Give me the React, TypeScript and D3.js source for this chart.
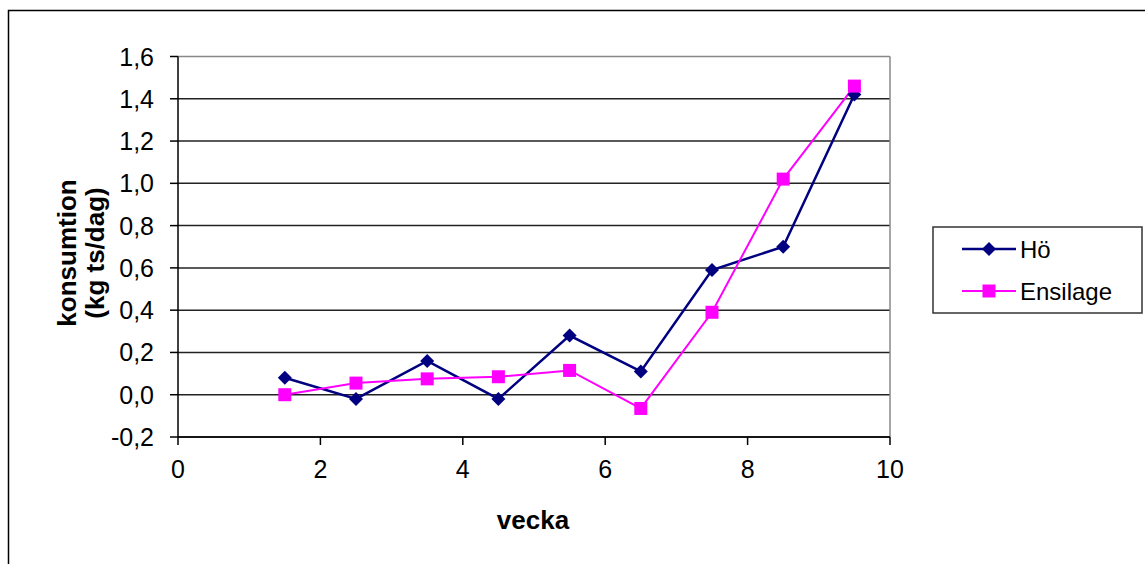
import React from "react";
import * as d3 from "d3";

const weeks = [1.5, 2.5, 3.5, 4.5, 5.5, 6.5, 7.5, 8.5, 9.5];
const hoValues = [0.08, -0.02, 0.16, -0.02, 0.28, 0.11, 0.59, 0.70, 1.42];
const ensilageValues = [0.0, 0.055, 0.075, 0.085, 0.115, -0.065, 0.39, 1.02, 1.46];
const xTicks = [0, 2, 4, 6, 8, 10];
const yTicks = [-0.2, 0, 0.2, 0.4, 0.6, 0.8, 1.0, 1.2, 1.4, 1.6];
const seriesNames = ["Hö", "Ensilage"];

const W = 1145;
const H = 564;
const FONT = "'Liberation Sans', Arial, sans-serif";

export default function App() {
  const x = d3.scaleLinear().domain([0, 10]).range([178, 890]);
  const y = d3.scaleLinear().domain([-0.2, 1.6]).range([437, 56.5]);
  const line = d3
    .line<[number, number]>()
    .x((d) => x(d[0]))
    .y((d) => y(d[1]));
  const ho: [number, number][] = weeks.map((w, i) => [w, hoValues[i]]);
  const en: [number, number][] = weeks.map((w, i) => [w, ensilageValues[i]]);
  const fmt = (v: number) => (v < 0 ? "-" : "") + Math.abs(v).toFixed(1).replace(".", ",");
  const navy = "#000080";
  const pink = "#FF00FF";
  const diamond = (cx: number, cy: number, r: number) =>
    `M${cx},${cy - r}L${cx + r},${cy}L${cx},${cy + r}L${cx - r},${cy}Z`;

  return (
    <svg
      width={W}
      height={H}
      style={{ position: "absolute", left: 0, top: 0, background: "#fff" }}
      fontFamily={FONT}
    >
      <rect x={8.5} y={10.5} width={W + 20} height={H + 20} fill="#fff" stroke="#000" strokeWidth={1.5} />
      {/* gridlines */}
      {yTicks.map((t) => (
        <line key={"g" + t} x1={x(0)} x2={x(10)} y1={y(t)} y2={y(t)} stroke={t === 1.6 ? "#888" : "#222"} strokeWidth={1.5} />
      ))}
      {/* right border */}
      <line x1={x(10)} x2={x(10)} y1={y(1.6)} y2={y(-0.2)} stroke="#888" strokeWidth={1.5} />
      {/* axes */}
      <line x1={x(0)} x2={x(0)} y1={y(1.6)} y2={y(-0.2)} stroke="#000" strokeWidth={1.5} />
      <line x1={x(0)} x2={x(10)} y1={y(-0.2)} y2={y(-0.2)} stroke="#000" strokeWidth={1.5} />
      {yTicks.map((t) => (
        <g key={"yt" + t}>
          <line x1={x(0) - 8} x2={x(0)} y1={y(t)} y2={y(t)} stroke="#000" strokeWidth={1.5} />
          <text x={154} y={y(t) + 9} textAnchor="end" fontSize={25} fill="#000">
            {fmt(t)}
          </text>
        </g>
      ))}
      {xTicks.map((t) => (
        <g key={"xt" + t}>
          <line x1={x(t)} x2={x(t)} y1={y(-0.2)} y2={y(-0.2) + 8} stroke="#000" strokeWidth={1.5} />
          <text x={x(t)} y={478} textAnchor="middle" fontSize={25} fill="#000">
            {t}
          </text>
        </g>
      ))}
      {/* axis titles */}
      <text x={533} y={529} textAnchor="middle" fontSize={26} fontWeight="bold" fill="#000">
        vecka
      </text>
      <g transform="translate(0,253) rotate(-90)">
        <text x={0} y={76} textAnchor="middle" fontSize={26} fontWeight="bold" fill="#000">
          konsumtion
        </text>
        <text x={0} y={104} textAnchor="middle" fontSize={26} fontWeight="bold" fill="#000">
          (kg ts/dag)
        </text>
      </g>
      {/* series */}
      <path d={line(ho) || ""} fill="none" stroke={navy} strokeWidth={2.5} />
      <path d={line(en) || ""} fill="none" stroke={pink} strokeWidth={2} />
      {ho.map((d, i) => (
        <path key={"h" + i} d={diamond(x(d[0]), y(d[1]), 7)} fill={navy} />
      ))}
      {en.map((d, i) => (
        <rect key={"e" + i} x={x(d[0]) - 6.5} y={y(d[1]) - 6.5} width={13} height={13} fill={pink} />
      ))}
      {/* legend */}
      <rect x={933} y={227} width={209} height={86} fill="#fff" stroke="#333" strokeWidth={1.5} />
      <line x1={962} x2={1016} y1={249} y2={249} stroke={navy} strokeWidth={2.5} />
      <path d={diamond(989, 249, 7)} fill={navy} />
      <text x={1020} y={258} fontSize={24} fill="#000">
        {seriesNames[0]}
      </text>
      <line x1={962} x2={1016} y1={291} y2={291} stroke={pink} strokeWidth={2} />
      <rect x={982.5} y={284.5} width={13} height={13} fill={pink} />
      <text x={1020} y={300} fontSize={24} fill="#000">
        {seriesNames[1]}
      </text>
    </svg>
  );
}
